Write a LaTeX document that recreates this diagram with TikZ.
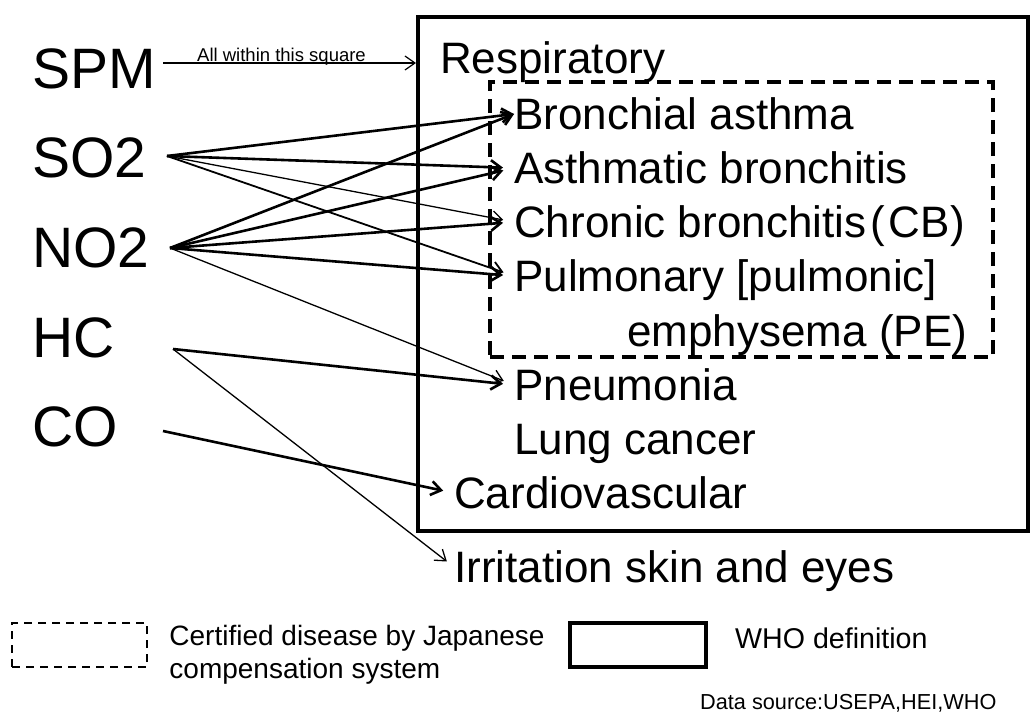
\documentclass[tikz,border=0pt]{standalone}
\usepackage{fontspec}
\setmainfont{Liberation Sans}
\usetikzlibrary{arrows.meta,positioning}

\begin{document}
\begin{tikzpicture}[x=1pt, y=-1pt,
  pollutant/.style={anchor=west, inner sep=0pt, text height=41pt, text depth=0pt,
                    font=\fontsize{57}{60}\selectfont},
  disease/.style={anchor=west, inner sep=0pt, text height=31.5pt, text depth=0pt,
                  font=\fontsize{44}{48}\selectfont},
  link/.style={-{Straight Barb[length=10pt,width=14pt]}, line width=2.6pt, shorten >=11pt},
  weak/.style={link, line width=1.3pt},
  who/.style={draw, line width=4pt, inner sep=0pt},
  certified/.style={draw, line width=3.5pt, dash pattern=on 14pt off 8pt, inner sep=0pt},
  keytext/.style={inner sep=0pt, font=\fontsize{28}{33}\selectfont}]
  \useasboundingbox (0,0) rectangle (1033,712);

  % pollutants
  \node[pollutant] (spm) at (32,68) {SPM};
  \node[pollutant, below=89pt of spm.west, anchor=west] (so2) {SO2};
  \node[pollutant, below=90pt of so2.west, anchor=west] (no2) {NO2};
  \node[pollutant, below=90pt of no2.west, anchor=west] (hc) {HC};
  \node[pollutant, below=89pt of hc.west, anchor=west] (co) {CO};

  \coordinate (spm out) at (163,63);
  \coordinate (so2 out) at (167,156);
  \coordinate (no2 out) at (170,248);
  \coordinate (hc out) at (173,349);
  \coordinate (co out) at (163,431);

  % boxes
  \node[who, minimum width=610pt, minimum height=514pt] (whobox) at (723,274) {};
  \node[certified, minimum width=503pt, minimum height=275pt] (certbox) at (741.5,219.5) {};

  % diseases
  \node[disease] (resp) at (440,58) {Respiratory};
  \node[disease] (bron) at (514,114) {Bronchial asthma};
  \node[disease, below=54pt of bron.west, anchor=west] (asth) {Asthmatic bronchitis};
  \node[disease, below=54pt of asth.west, anchor=west] (chron) {Chronic bronchitis\hspace{4pt}(\hspace{4pt}CB)};
  \node[disease, below=54pt of chron.west, anchor=west] (pulm) {Pulmonary [pulmonic]};
  \node[disease] (emph) at (627,331) {emphysema (PE)};
  \node[disease, below=109pt of pulm.west, anchor=west] (pneu) {Pneumonia};
  \node[disease, below=54pt of pneu.west, anchor=west] (lung) {Lung cancer};
  \node[disease] (cardio) at (454,493) {Cardiovascular};
  \node[disease, below=74pt of cardio.west, anchor=west] (irrit) {Irritation skin and eyes};

  % links
  \draw[weak, line width=1.2pt, shorten >=0pt] (spm out) -- (spm out -| whobox.west)
    node[midway, above, xshift=-8pt, inner sep=1pt, text depth=0pt,
         font=\fontsize{18.5}{20}\selectfont] (spmnote) {All within this square};
  \draw[link, shorten >=0pt] (so2 out) -- (bron.west);
  \draw[link] (so2 out) -- (asth.west);
  \draw[weak] (so2 out) -- (chron.west);
  \draw[link, line width=1.8pt] (so2 out) -- (pulm.west);
  \draw[link, shorten >=0pt] (no2 out) -- (bron.west);
  \draw[link] (no2 out) -- (asth.west);
  \draw[link] (no2 out) -- (chron.west);
  \draw[link] (no2 out) -- (pulm.west);
  \draw[weak] (no2 out) -- (pneu.west);
  \draw[link] (hc out) -- (pneu.west);
  \draw[weak, shorten >=9pt] (hc out) -- (irrit.west);
  \draw[link] (co out) -- (cardio.west);

  % key
  \node[certified, line width=2.5pt, dash pattern=on 8pt off 6pt,
        minimum width=135pt, minimum height=44pt] (certkey) at (79.5,645) {};
  \node[keytext, align=left, right=21pt of certkey.north east, anchor=north west,
        yshift=-3.5pt] (certtext) {Certified disease by Japanese\\compensation system};
  \node[who, line width=3.5pt, minimum width=136pt, minimum height=44pt] (whokey) at (638,645) {};
  \node[keytext, font=\fontsize{28.6}{33}\selectfont, anchor=base west] (whotext) at (735,648) {WHO definition};
  \node[inner sep=0pt, anchor=base west, font=\fontsize{21.7}{24}\selectfont] (source) at (700,709) {Data source:USEPA,HEI,WHO};
\end{tikzpicture}
\end{document}
